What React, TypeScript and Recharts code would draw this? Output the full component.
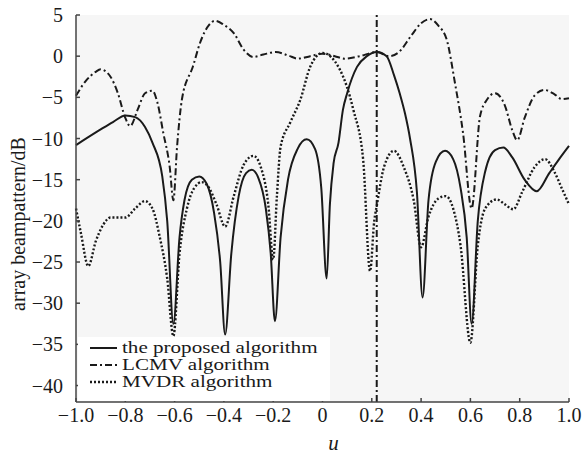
import { CartesianGrid, Label, Line, LineChart, ReferenceLine, XAxis, YAxis } from "recharts";

const X_TICKS = [-1, -0.8, -0.6, -0.4, -0.2, 0, 0.2, 0.4, 0.6, 0.8, 1];
const Y_TICKS = [5, 0, -5, -10, -15, -20, -25, -30, -35, -40];
const STEER_U = 0.22;

// the proposed algorithm (solid)
const propU = [
  -1.0, -0.9, -0.85, -0.8, -0.76, -0.72, -0.69, -0.65, -0.63, -0.605, -0.58, -0.56, -0.53, -0.5, -0.47, -0.44, -0.415,
  -0.395, -0.37, -0.34, -0.31, -0.287, -0.26, -0.23, -0.21, -0.193, -0.17, -0.14, -0.1, -0.064, -0.03, -0.005, 0.017,
  0.03, 0.045, 0.065, 0.083, 0.1, 0.14, 0.18, 0.22, 0.26, 0.29, 0.314, 0.335, 0.355, 0.383, 0.406, 0.43, 0.46, 0.497,
  0.53, 0.56, 0.585, 0.605, 0.63, 0.66, 0.7, 0.734, 0.77, 0.82, 0.869, 0.92, 0.96, 1.0,
];
const propDb = [
  -10.8, -8.9, -8.0, -7.2, -7.4, -8.6, -10.5, -14.6, -20, -32.5, -22, -17.5, -15, -14.6, -15.5, -19, -25,
  -33.8, -24, -17, -14.2, -13.8, -14.8, -18.5, -24, -32.2, -22, -15, -11.2, -10.1, -11.3, -16, -27,
  -18, -13, -10.5, -6.5, -4.5, -1.3, 0, 0.5, 0, -2.3, -4.6, -7, -10, -16.5, -29.3, -17.5, -12.8, -11.5,
  -12.5, -16, -22, -32.5, -20, -14, -11.4, -11.1, -12.3, -15, -16.4, -14.2, -12.5, -10.9,
];

// LCMV algorithm (dash-dot)
const lcmvU = [
  -1.0, -0.96, -0.92, -0.9, -0.86, -0.83, -0.8, -0.78, -0.75, -0.72, -0.69, -0.67, -0.646, -0.62, -0.605, -0.59, -0.57,
  -0.525, -0.497, -0.46, -0.436, -0.4, -0.36, -0.32, -0.28, -0.24, -0.19, -0.14, -0.1, -0.05, 0.0, 0.05, 0.09, 0.15,
  0.22, 0.27, 0.31, 0.36, 0.4, 0.436, 0.47, 0.504, 0.537, 0.57, 0.605, 0.639, 0.667, 0.7, 0.74, 0.77, 0.79, 0.82, 0.86,
  0.9, 0.94, 0.97, 1.0,
];
const lcmvDb = [
  -4.8, -3.0, -1.9, -1.6, -2.5, -4.5, -7.5, -8.5, -6.5, -4.5, -4.2, -5.6, -9.3, -13.4, -17.5, -11, -5.2,
  -1.2, 1.6, 3.8, 4.3, 3.8, 2.8, 0.8, -0.1, 0.2, 0.5, 0.1, -0.3, 0, 0.3, 0, -0.3, 0,
  0.5, 0, 0.5, 2.5, 4.0, 4.5, 3.7, 2.0, -3.2, -9.3, -18.5, -7.3, -5.3, -4.5, -6, -9, -10.2, -7.5, -4.8,
  -4.1, -4.6, -5.2, -5.1,
];

// MVDR algorithm (dotted)
const mvdrU = [
  -1.0, -0.98, -0.95, -0.92, -0.89, -0.86, -0.8, -0.76, -0.72, -0.69, -0.66, -0.63, -0.605, -0.58, -0.55, -0.52, -0.49,
  -0.46, -0.43, -0.395, -0.36, -0.32, -0.28, -0.25, -0.22, -0.2, -0.185, -0.17, -0.13, -0.09, -0.05, 0.0, 0.07, 0.125,
  0.165, 0.193, 0.21, 0.22, 0.25, 0.29, 0.33, 0.37, 0.4, 0.43, 0.47, 0.5, 0.53, 0.56, 0.6, 0.63, 0.66, 0.707, 0.74,
  0.774, 0.81, 0.86, 0.903, 0.94, 0.97, 1.0,
];
const mvdrDb = [
  -18.5, -21.5, -25.5, -22.5, -20.5, -19.6, -19.6, -18.5, -17.6, -18.5, -22, -27, -34, -24, -18.5, -16, -15.3,
  -16, -18, -20.7, -17, -13.2, -12.1, -13.5, -18, -24.7, -17, -11, -8, -5.3, -1.3, 0.4, -1.6, -6.5,
  -12.6, -26.1, -20, -18.2, -13.4, -11.5, -13.5, -17.5, -23.2, -19.5, -17.3, -17, -18.5, -23, -34.8, -23, -18.5, -17.4, -18,
  -18.6, -16.5, -13.5, -12.5, -14, -16, -18,
];

const FONT = "'Liberation Serif', 'Times New Roman', serif";
const INK = "#1a1a1a";

const SERIES = [
  { name: "the proposed algorithm", u: propU, db: propDb, dash: undefined as string | undefined, width: 2 },
  { name: "LCMV algorithm", u: lcmvU, db: lcmvDb, dash: "7 3 2 3", width: 2 },
  { name: "MVDR algorithm", u: mvdrU, db: mvdrDb, dash: "2 2", width: 2.4 },
];

const pts = (u: number[], db: number[]) => u.map((x, i) => ({ u: x, v: db[i] }));
const minus = (s: string) => s.replace("-", "\u2212");
const fmtX = (v: number) => (v === 0 ? "0" : minus(v.toFixed(1)));
const fmtY = (v: number) => minus(String(v));

// legend text in the original is set wide and tight; squeeze the font, widen it back
function LegendBox() {
  return (
    <div
      style={{
        position: "absolute",
        left: 78,
        top: 337,
        width: 252,
        height: 64,
        background: "#fff",
        boxSizing: "border-box",
        padding: "2px 0 0 12px",
        fontFamily: FONT,
        fontSize: 17,
        color: INK,
      }}
    >
      {SERIES.map((s) => (
        <div key={s.name} style={{ display: "flex", alignItems: "center", height: 17, lineHeight: "17px", whiteSpace: "nowrap" }}>
          <svg width={27} height={6} style={{ marginRight: 5 }}>
            <line x1={0} y1={3} x2={27} y2={3} stroke={INK} strokeWidth={s.width} strokeDasharray={s.dash} />
          </svg>
          <span style={{ display: "inline-block", transform: "scaleX(1.24)", transformOrigin: "left center" }}>{s.name}</span>
        </div>
      ))}
    </div>
  );
}

export default function App() {
  const tickStyle = { fontSize: 20, fontFamily: FONT, fill: INK };
  return (
    <div style={{ position: "absolute", left: 0, top: 0, width: 585, height: 455, background: "#fff" }}>
      <LineChart width={585} height={455} margin={{ top: 15, right: 16, bottom: 23, left: 0 }}>
        <CartesianGrid horizontal={false} vertical={false} fill="#f6f6f6" />
        <XAxis
          dataKey="u"
          type="number"
          domain={[-1, 1]}
          ticks={X_TICKS}
          tickFormatter={fmtX}
          height={30}
          tick={tickStyle}
          tickSize={-4}
          tickMargin={10}
          stroke="#444"
          strokeWidth={1.5}
          interval={0}
          allowDuplicatedCategory={false}
        >
          <Label
            content={({ viewBox }: any) => (
              <text x={viewBox.x + viewBox.width / 2 + 11} y={450} textAnchor="middle" fontFamily={FONT} fontStyle="italic" fontSize={21} fill={INK}>
                u
              </text>
            )}
          />
        </XAxis>
        <YAxis
          type="number"
          domain={[-42, 5]}
          ticks={Y_TICKS}
          tickFormatter={fmtY}
          width={76}
          tick={tickStyle}
          tickSize={-4}
          tickMargin={17}
          stroke="#444"
          strokeWidth={1.5}
          interval={0}
          allowDataOverflow
        >
          <Label
            content={() => (
              <text x={25} y={224} transform="rotate(-90 25 224)" textAnchor="middle" fontFamily={FONT} fontSize={20} fill={INK}>
                array beampattern/dB
              </text>
            )}
          />
        </YAxis>
        <ReferenceLine x={STEER_U} stroke={INK} strokeWidth={2} strokeDasharray="7 3 2 3" />
        {SERIES.map((s) => (
          <Line
            key={s.name}
            data={pts(s.u, s.db)}
            dataKey="v"
            name={s.name}
            type="monotone"
            stroke={INK}
            strokeWidth={s.width}
            strokeDasharray={s.dash}
            dot={false}
            isAnimationActive={false}
          />
        ))}
      </LineChart>
      <LegendBox />
    </div>
  );
}
